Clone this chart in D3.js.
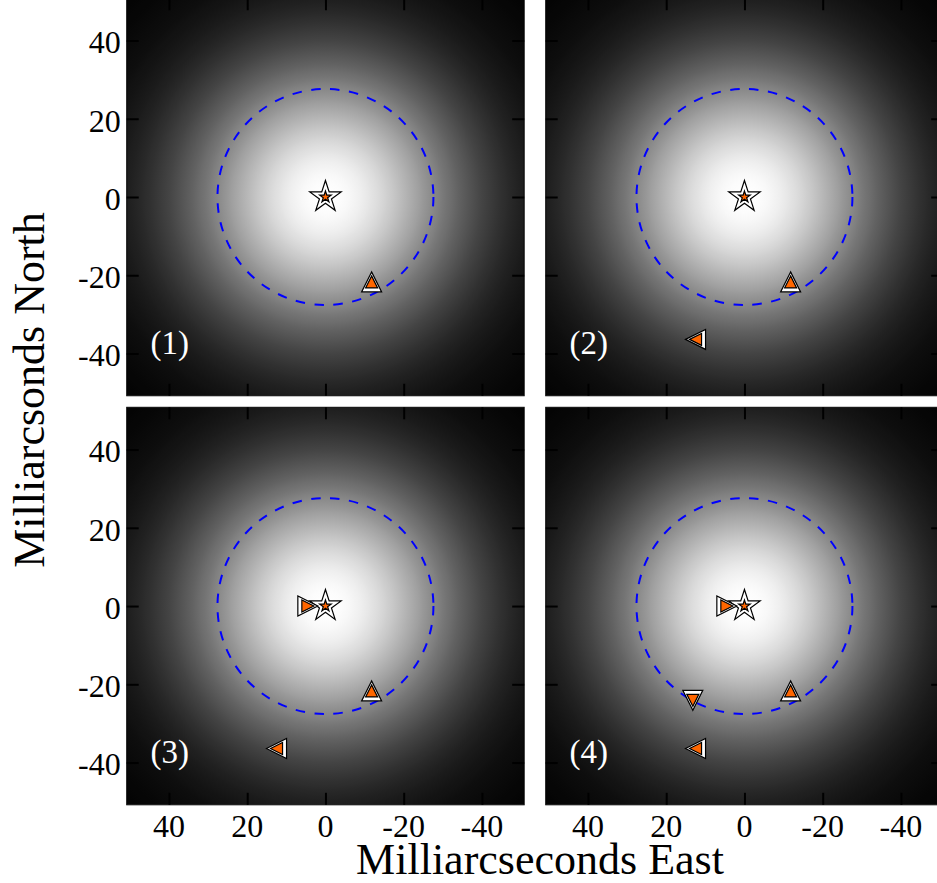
<!DOCTYPE html>
<html><head><meta charset="utf-8">
<script src="https://cdn.jsdelivr.net/npm/d3@7"></script>
<style>html,body{margin:0;padding:0;background:#fff;overflow:hidden} svg{display:block}</style>
</head><body>
<svg id="chart" width="937" height="883"></svg>
<script>
// ---- data ----
const panelLabels = ["(1)", "(2)", "(3)", "(4)"];
const xTickValues = [40, 20, 0, -20, -40];
const yTickValues = [40, 20, 0, -20, -40];
const xTickText = ["40", "20", "0", "-20", "-40"];
const yTickText = ["40", "20", "0", "-20", "-40"];
const markerShape = ["star", "up", "left", "right", "down"];
const markerEast = [0, -11.8, 12.5, 4.5, 13.2];
const markerNorth = [0, -21.7, -36.4, 0, -24.1];
const markerFromPanel = [1, 1, 2, 3, 4];
const beamHWHM = [27.6];      // dashed circle radius (mas)
const imageHWHM = [29];       // half width at half max of the grey image (mas)
const axisExtent = [50.8, -50.8];
const xLabel = "Milliarcseconds East";
const yLabel = "Milliarcsonds North";

// ---- layout ----
const svg = d3.select("#chart");
const size = 397.5;
const colX = [126.7, 545.7];
const rowY = [-1.75, 407.3];
const orange = "#ff6600";
const serif = "'Liberation Serif', 'DejaVu Serif', serif";

const x = d3.scaleLinear().domain(axisExtent).range([0, size]);
const y = d3.scaleLinear().domain([axisExtent[0], axisExtent[1]]).range([0, size]);

// Gaussian beam image as a radial gradient
const defs = svg.append("defs");
const rMax = 75;
const grad = defs.append("radialGradient").attr("id", "beam")
  .attr("gradientUnits", "userSpaceOnUse")
  .attr("cx", x(0)).attr("cy", y(0))
  .attr("r", Math.abs(x(rMax) - x(0)));
d3.range(0, rMax + 0.001, 1).forEach(r => {
  const v = Math.exp(-Math.LN2 * (r / imageHWHM[0]) ** 2);
  const g = Math.round(255 * v);
  grad.append("stop").attr("offset", r / rMax).attr("stop-color", `rgb(${g},${g},${g})`);
});
defs.append("clipPath").attr("id", "pclip").append("rect")
  .attr("width", size).attr("height", size);

function markerPath(shape, s) {
  const p = d3.path();
  if (shape === "star") {
    const inner = 0.381966;
    for (let i = 0; i < 10; i++) {
      const rr = (i % 2 === 0 ? 1 : inner) * s;
      const a = -Math.PI / 2 + i * Math.PI / 5;
      const px = rr * Math.cos(a), py = rr * Math.sin(a);
      if (i === 0) p.moveTo(px, py); else p.lineTo(px, py);
    }
  } else {
    let pts;
    if (shape === "up") pts = [[0, -s], [-s, s], [s, s]];
    if (shape === "down") pts = [[0, s], [-s, -s], [s, -s]];
    if (shape === "left") pts = [[-s, 0], [s, -s], [s, s]];
    if (shape === "right") pts = [[s, 0], [-s, -s], [-s, s]];
    p.moveTo(pts[0][0], pts[0][1]);
    pts.slice(1).forEach(q => p.lineTo(q[0], q[1]));
  }
  p.closePath();
  return p.toString();
}

panelLabels.forEach((lab, i) => {
  const col = i % 2, row = Math.floor(i / 2);
  const g = svg.append("g").attr("transform", `translate(${colX[col]},${rowY[row]})`);
  const inner = g.append("g").attr("clip-path", "url(#pclip)");
  inner.append("rect").attr("width", size).attr("height", size).attr("fill", "url(#beam)");

  // dashed HWHM circle
  inner.append("circle").attr("cx", x(0)).attr("cy", y(0))
    .attr("r", Math.abs(x(beamHWHM[0]) - x(0)))
    .attr("fill", "none").attr("stroke", "#0000ff").attr("stroke-width", 2)
    .attr("stroke-dasharray", "9.5,9.5");

  // markers
  markerShape.forEach((sh, k) => {
    if (i + 1 < markerFromPanel[k]) return;
    const mg = inner.append("g").attr("transform", `translate(${x(markerEast[k])},${y(markerNorth[k])})`);
    const big = sh === "star" ? 16.5 : 10;
    const small = 6;
    mg.append("path").attr("d", markerPath(sh, big)).attr("fill", "#fff")
      .attr("stroke", "#000").attr("stroke-width", 1.2).attr("stroke-linejoin", "miter");
    mg.append("path").attr("d", markerPath(sh, small)).attr("fill", orange)
      .attr("stroke", "#000").attr("stroke-width", 1.2);
  });

  // panel label
  g.append("text").attr("x", x(44.7)).attr("y", y(-40.1))
    .attr("fill", "#fff").attr("font-family", serif).attr("font-size", 33)
    .text(lab);

  // ticks (inward, all four sides)
  const tl = 12;
  g.append("g").attr("transform", `translate(0,${size})`)
    .call(d3.axisBottom(x).tickValues(xTickValues).tickSize(-tl).tickFormat(""));
  g.append("g")
    .call(d3.axisTop(x).tickValues(xTickValues).tickSize(-tl).tickFormat(""));
  g.append("g")
    .call(d3.axisLeft(y).tickValues(yTickValues).tickSize(-tl).tickFormat(""));
  g.append("g").attr("transform", `translate(${size},0)`)
    .call(d3.axisRight(y).tickValues(yTickValues).tickSize(-tl).tickFormat(""));
  g.selectAll(".domain").remove();
  g.selectAll(".tick line").attr("stroke", "#000").attr("stroke-width", 2);
  g.append("rect").attr("width", size).attr("height", size)
    .attr("fill", "none").attr("stroke", "#000").attr("stroke-width", 1);

  if (col === 0) {
    g.selectAll(".ylab").data(yTickValues).enter().append("text")
      .attr("x", -6).attr("y", d => y(d)).attr("dy", "0.4em")
      .attr("text-anchor", "end").attr("font-family", serif).attr("font-size", 32)
      .attr("fill", "#000").text((d, j) => yTickText[j]);
  }
  if (row === 1) {
    g.selectAll(".xlab").data(xTickValues).enter().append("text")
      .attr("x", d => x(d)).attr("y", size + 32)
      .attr("text-anchor", "middle").attr("font-family", serif).attr("font-size", 32)
      .attr("fill", "#000").text((d, j) => xTickText[j]);
  }
});

svg.append("text").attr("x", 540).attr("y", 874).attr("text-anchor", "middle")
  .attr("font-family", serif).attr("font-size", 44).attr("fill", "#000").text(xLabel);
svg.append("text").attr("transform", "translate(44,390) rotate(-90)").attr("text-anchor", "middle")
  .attr("font-family", serif).attr("font-size", 44).attr("fill", "#000").text(yLabel);
</script>
</body></html>
